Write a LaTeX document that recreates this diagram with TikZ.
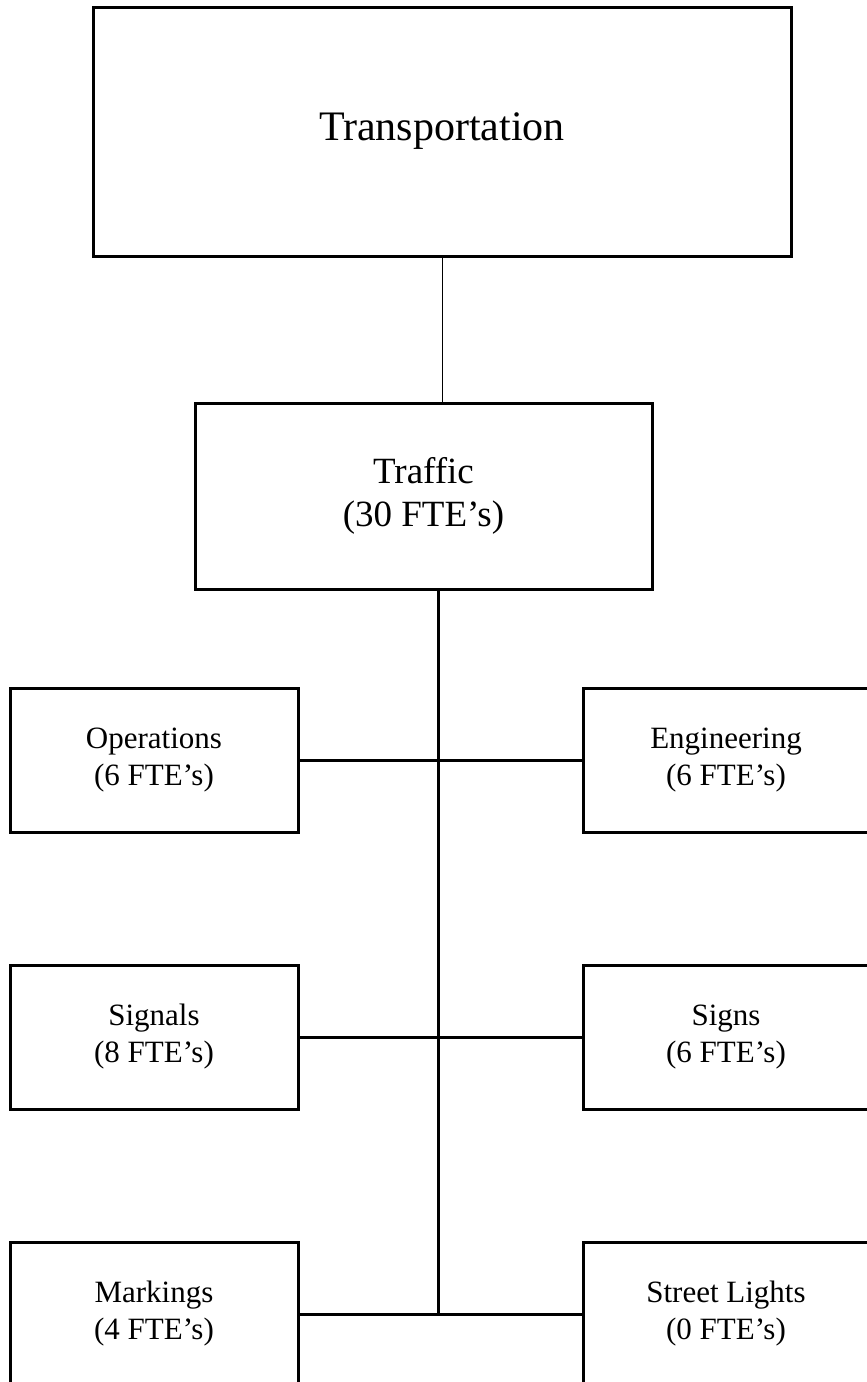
\documentclass[tikz,border=0pt]{standalone}
\usepackage{fontspec}
\setmainfont{Liberation Serif}
\usetikzlibrary{positioning}

\begin{document}
\begin{tikzpicture}[
        x=1pt, y=-1pt,
        node distance=133pt and 285pt,
        box/.style={rectangle, draw=black, line width=3pt, outer sep=0pt, inner sep=0pt, minimum width=288pt, minimum height=144pt, align=center, font=\fontsize{31}{37}\selectfont},
        link/.style={line width=3pt, black},
        thinlink/.style={line width=1pt, black}
    ]
        \useasboundingbox (0,0) rectangle (867,1382);

        % Top of the chart
        \node[box, minimum width=698pt, minimum height=249pt, font=\fontsize{42}{50}\selectfont] (trans) at (442,131.5) {Transportation};
        \node[box, minimum width=457pt, minimum height=186pt, font=\fontsize{37}{43}\selectfont] (traffic) at (423.5,496) {Traffic\\(30 FTE's)};

        % Left column
        \node[box] (ops) at (154,760) {Operations\\(6 FTE's)};
        \node[box, below=of ops] (signals) {Signals\\(8 FTE's)};
        \node[box, below=of signals] (markings) {Markings\\(4 FTE's)};

        % Right column
        \node[box, minimum width=286pt, right=of ops] (eng) {Engineering\\(6 FTE's)};
        \node[box, minimum width=286pt, right=of signals] (signs) {Signs\\(6 FTE's)};
        \node[box, minimum width=286pt, right=of markings] (lights) {Street Lights\\(0 FTE's)};

        % Lines
        \coordinate (spine) at (438,0);
        \draw[thinlink] (trans.south) -- (trans.south |- traffic.north);
        \draw[link] (traffic.south -| spine) -- (spine |- markings.east);
        \draw[link] (ops.east) -- (eng.west);
        \draw[link] (signals.east) -- (signs.west);
        \draw[link] (markings.east) -- (lights.west);
    \end{tikzpicture}
\end{document}
